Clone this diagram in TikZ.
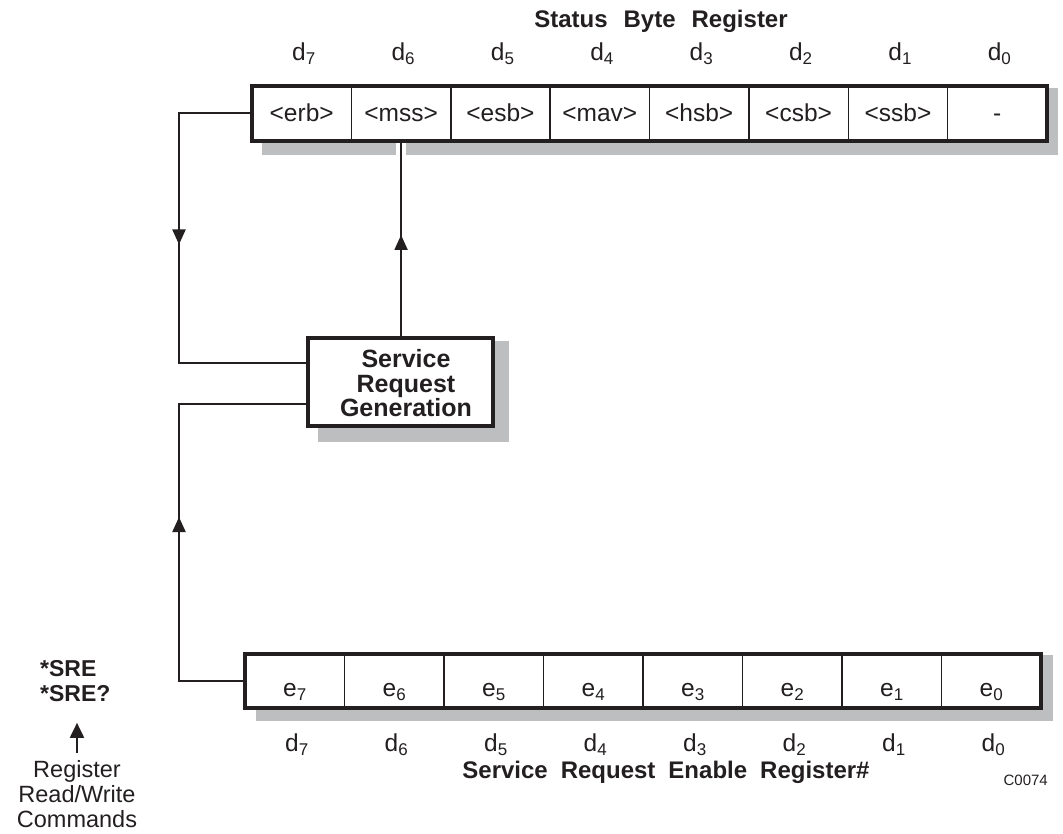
\documentclass[tikz,border=0pt]{standalone}
\usepackage{fontspec}
\setmainfont{Liberation Sans}
\usetikzlibrary{arrows.meta,decorations.markings,backgrounds,calc}
\definecolor{ink}{RGB}{35,31,32}
\definecolor{shade}{RGB}{188,190,192}
\newcommand\sbs[1]{\raisebox{-4pt}{\fontsize{17}{17}\selectfont #1}}
\begin{document}
\begin{tikzpicture}[x=1pt,y=-1pt,
  conn/.style={draw=ink, line width=2pt},
  arrat/.style={postaction={decorate, decoration={markings, mark=at position #1 with {\arrow{Triangle[width=13pt,length=15pt]}}}}},
  frame/.style={draw=ink, line width=4pt, inner sep=0pt},
  cellbox/.style={draw=ink, line width=1.5pt, fill=white, inner sep=0pt, text=ink,
    font=\fontsize{24.5}{25}\selectfont},
  lab/.style={inner sep=0pt, text=ink, font=\fontsize{24.5}{25}\selectfont},
  btitle/.style={inner sep=0pt, text=ink, font=\fontsize{24}{25}\selectfont\bfseries},
  shadow/.style={fill=shade, draw=none}
]
\useasboundingbox (0,0) rectangle (1063,834);

% ---------- Status Byte Register ----------
\foreach \t [count=\k from 0] in {{<erb>},{<mss>},{<esb>},{<mav>},{<hsb>},{<csb>},{<ssb>},{-}} {
  \pgfmathtruncatemacro\b{7-\k}
  \node[cellbox, minimum width=99.375pt, minimum height=55pt, text height=17pt, text depth=0pt]
    (s\b) at ({252+99.375*(\k+0.5)},113.5) {\t};
  \node[lab, anchor=base] (td\b) at ({254+99.375*(\k+0.5)},61) {d\sbs{\b}};
}
\node[frame, minimum width=795pt, minimum height=55pt] (sbr) at (649.5,113.5) {};
\node[btitle, anchor=base] (sbrt) at (661,28) {Status\hspace{16pt}Byte\hspace{16pt}Register};

% ---------- Service Request Enable Register ----------
\foreach \k in {0,...,7} {
  \pgfmathtruncatemacro\b{7-\k}
  \node[cellbox, minimum width=99.5pt, minimum height=54pt, text height=30pt, text depth=0pt]
    (e\b) at ({245+99.5*(\k+0.5)},681) {e\sbs{\b}};
  \node[lab, anchor=base] (bd\b) at ({247+99.5*(\k+0.5)},751) {d\sbs{\b}};
}
\node[frame, minimum width=796pt, minimum height=54pt] (srer) at (643,681) {};
\node[btitle, anchor=base] (srert) at (666,778) {Service\hspace{13pt}Request\hspace{13pt}Enable\hspace{13pt}Register\#};
\node[inner sep=0pt, text=ink, font=\fontsize{15}{15}\selectfont, anchor=base east] (code) at (1048,785) {C0074};

% ---------- Service Request Generation ----------
\node[frame, fill=white, minimum width=185pt, minimum height=88pt] (srg) at (400.5,382) {};
\node[inner sep=0pt, text=ink, align=center, font=\fontsize{25}{24.5}\selectfont\bfseries]
  (srgt) at (406,383.5) {Service\\Request\\Generation};

% ---------- Commands ----------
\node[inner sep=0pt, text=ink, align=left, font=\fontsize{23}{25}\selectfont\bfseries, anchor=west]
  (sre) at (40,681) {*SRE\\*SRE?};
\node[inner sep=0pt, text=ink, align=center, font=\fontsize{23.5}{25}\selectfont]
  (cmd) at (77,794) {Register\\Read/Write\\Commands};
\coordinate (atip) at ([yshift=-21pt]sre.south);
\draw[conn, -{Triangle[width=14pt,length=15pt]}] ([yshift=7.5pt]cmd.north) -- (cmd.north |- atip);

% ---------- shadows ----------
\begin{scope}[on background layer]
  \fill[shadow] ($(sbr.north west)+(12,4)$) rectangle ($(sbr.south east)+(9,12)$);
  \fill[shadow] ($(srer.north west)+(13,3)$) rectangle ($(srer.south east)+(10,11)$);
  \fill[shadow] ($(srg.north west)+(12,5)$) rectangle ($(srg.south east)+(14,14)$);
\end{scope}

% ---------- connectors ----------
\coordinate (lx) at (179,0);
\coordinate (srgA) at ([yshift=19pt]srg.west);
\coordinate (srgB) at ([yshift=-22pt]srg.west);
\draw[conn, arrat=202pt] (sbr.west) -| (srgA -| lx) -- (srgA);
\draw[conn, arrat=228pt] (srer.west) -| (srgB -| lx) -- (srgB);
\draw[conn, preaction={draw=white, line width=10pt}, arrat=101pt]
  (srg.north -| s6.center) -- (sbr.south -| s6.center);
\end{tikzpicture}
\end{document}
